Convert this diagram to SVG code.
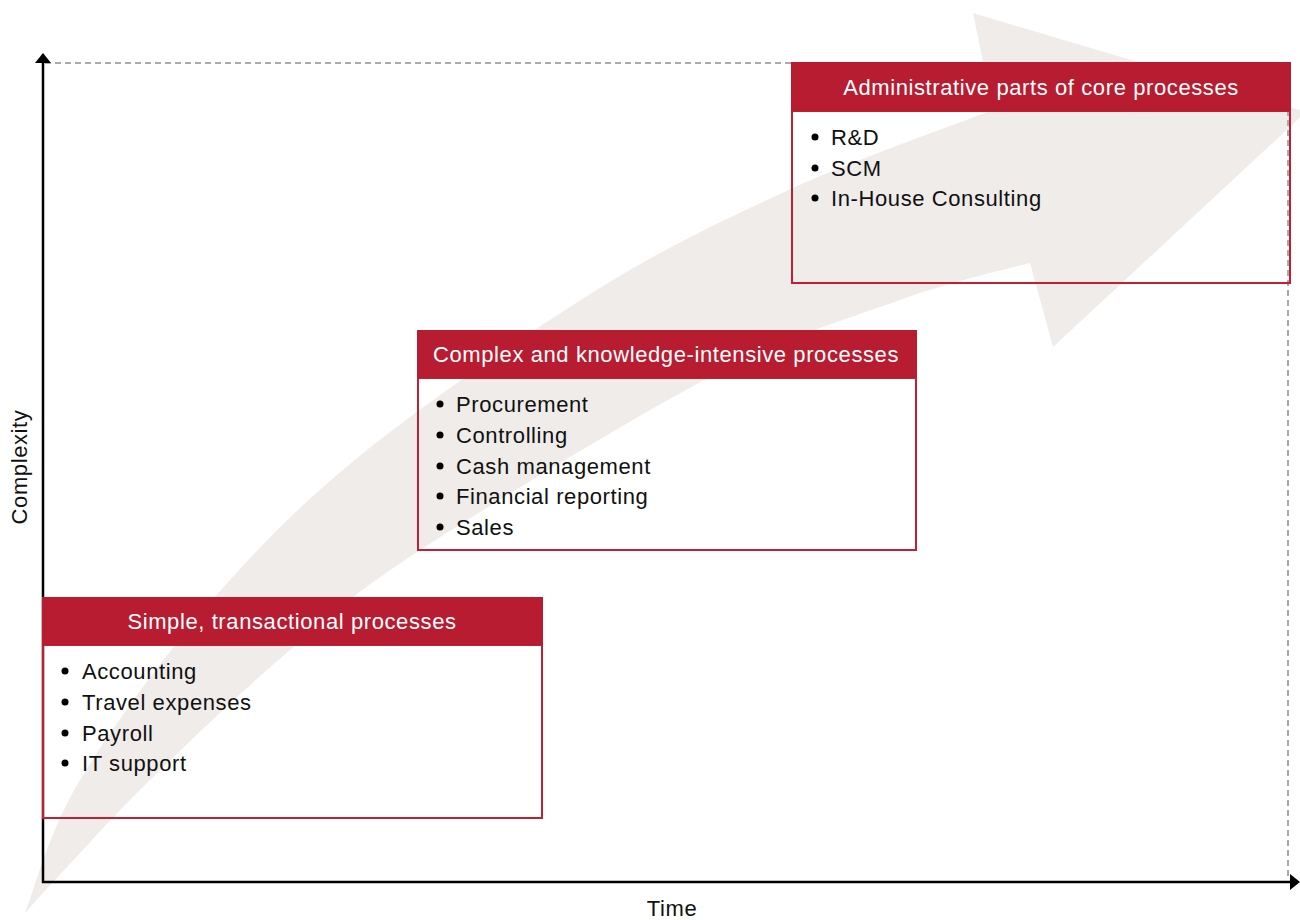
<svg xmlns="http://www.w3.org/2000/svg" width="1300" height="920" viewBox="0 0 1300 920">
<style>
.hdr{fill:#b71c31}
.body{fill:none;stroke:#c21f36;stroke-width:2}
.ht{font-family:"Liberation Sans",Arial,sans-serif;font-size:22px;fill:#ffffff;text-anchor:middle;letter-spacing:0.6px}
.it{font-family:"Liberation Sans",Arial,sans-serif;font-size:22px;fill:#111111;letter-spacing:0.6px}
.ax{font-family:"Liberation Sans",Arial,sans-serif;font-size:22px;fill:#111111;text-anchor:middle;letter-spacing:0.6px}
.dash{fill:none;stroke:#aaaaaa;stroke-width:2;stroke-dasharray:6 4}
.axis{stroke:#000000;stroke-width:2.5;fill:none}
</style>
<defs>
<marker id="ah" viewBox="0 0 10 16" refX="0" refY="8" markerWidth="10" markerHeight="16" markerUnits="userSpaceOnUse" orient="auto">
<path d="M0,0 L10,8 L0,16 z" fill="#000"/>
</marker>
</defs>
<g id="bigarrow">
<path fill="#efecea" d="M25,913 C34,891 48,833 80,780 C112,727 167,652 215,597 C263,542 303,502 367,450 C431,399 529,332 600,288 C671,244 728,218 793,188 C859,158 960,123 993,110 L973,13 L1306,112 L1053,347 L1030,263 C1008,269 953,281 900,300 C847,319 790,335 710,377 C630,419 490,505 420,550 C350,596 335,612 290,650 C245,688 189,742 150,780 C111,818 76,858 55,880 C34,902 30,908 25,913 Z"/>
</g>
<g id="guides">
<polyline class="dash" points="45,63 1288,63 1288,878"/>
</g>
<g id="connectors">
<line class="axis" x1="43" y1="883" x2="43" y2="63" marker-end="url(#ah)"/>
<line class="axis" x1="42" y1="882" x2="1290" y2="882" marker-end="url(#ah)"/>
</g>
<g id="axis-labels">
<text class="ax" x="672" y="916">Time</text>
<text class="ax" transform="translate(27,467) rotate(-90)">Complexity</text>
</g>
<g id="box-simple">
<rect class="body" x="43" y="645" width="499" height="173"/>
<rect class="hdr" x="42" y="597" width="501" height="48"/>
<text class="ht" x="292" y="629">Simple, transactional processes</text>
<circle cx="65" cy="671" r="3.5"/><text class="it" x="82" y="679">Accounting</text>
<circle cx="65" cy="702" r="3.5"/><text class="it" x="82" y="710">Travel expenses</text>
<circle cx="65" cy="733" r="3.5"/><text class="it" x="82" y="741">Payroll</text>
<circle cx="65" cy="763" r="3.5"/><text class="it" x="82" y="771">IT support</text>
</g>
<g id="box-complex">
<rect class="body" x="418" y="378" width="498" height="172"/>
<rect class="hdr" x="417" y="330" width="500" height="48"/>
<text class="ht" x="666" y="362">Complex and knowledge-intensive processes</text>
<circle cx="440" cy="404" r="3.5"/><text class="it" x="456" y="412">Procurement</text>
<circle cx="440" cy="435" r="3.5"/><text class="it" x="456" y="443">Controlling</text>
<circle cx="440" cy="466" r="3.5"/><text class="it" x="456" y="474">Cash management</text>
<circle cx="440" cy="496" r="3.5"/><text class="it" x="456" y="504">Financial reporting</text>
<circle cx="440" cy="527" r="3.5"/><text class="it" x="456" y="535">Sales</text>
</g>
<g id="box-admin">
<rect class="body" x="792" y="111" width="498" height="172"/>
<rect class="hdr" x="791" y="62" width="500" height="49"/>
<text class="ht" x="1041" y="95">Administrative parts of core processes</text>
<circle cx="815" cy="137" r="3.5"/><text class="it" x="831" y="145">R&amp;D</text>
<circle cx="815" cy="168" r="3.5"/><text class="it" x="831" y="176">SCM</text>
<circle cx="815" cy="198" r="3.5"/><text class="it" x="831" y="206">In-House Consulting</text>
</g>
</svg>
